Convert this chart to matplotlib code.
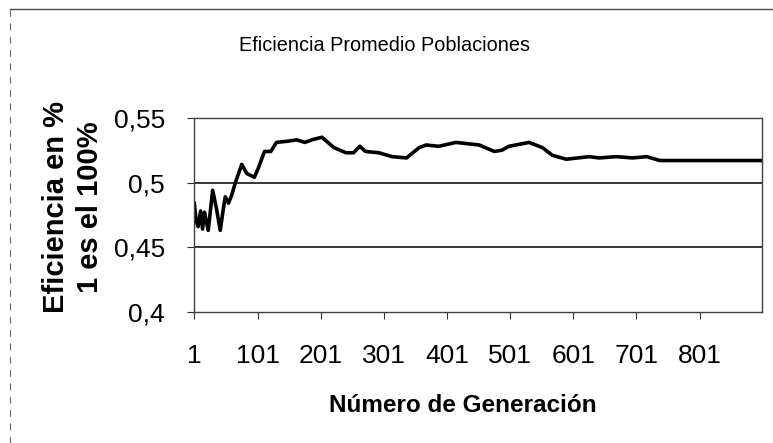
import matplotlib.pyplot as plt
from matplotlib.lines import Line2D

plt.rcParams['font.family'] = ['Liberation Sans', 'DejaVu Sans']

# generación y eficiencia promedio
generacion = [1, 4, 7, 11, 14, 17, 20, 23, 30, 36, 42, 47, 50, 55, 60, 66, 76, 84,
              96, 103, 112, 122, 131, 150, 163, 176, 187, 203, 222, 241, 253, 263,
              272, 293, 314, 337, 357, 368, 388, 415, 452, 476, 488, 499, 531, 552,
              568, 590, 626, 642, 669, 695, 717, 738, 801, 899]
eficiencia = [0.484, 0.470, 0.466, 0.478, 0.464, 0.477, 0.470, 0.463, 0.494, 0.480,
              0.463, 0.480, 0.489, 0.484, 0.490, 0.500, 0.514, 0.507, 0.504, 0.512,
              0.524, 0.524, 0.531, 0.532, 0.533, 0.531, 0.533, 0.535, 0.527, 0.523,
              0.523, 0.528, 0.524, 0.523, 0.520, 0.519, 0.527, 0.529, 0.528, 0.531,
              0.529, 0.524, 0.525, 0.528, 0.531, 0.527, 0.521, 0.518, 0.520, 0.519,
              0.520, 0.519, 0.520, 0.517, 0.517, 0.517]

yticks = [0.4, 0.45, 0.5, 0.55]
ytick_labels = ['0,4', '0,45', '0,5', '0,55']
xticks = [1, 101, 201, 301, 401, 501, 601, 701, 801]

fig = plt.figure(figsize=(7.73, 4.43), dpi=100)
ax = fig.add_axes([0.251, 0.296, 0.735, 0.438])

ax.plot(generacion, eficiencia, color='black', linewidth=2.6)

ax.set_xlim(0.5, 900)
ax.set_ylim(0.4, 0.55)
ax.set_yticks(yticks)
ax.set_yticklabels(ytick_labels)
ax.set_xticks(xticks)
ax.set_xticklabels([str(t) for t in xticks])
ax.tick_params(axis='both', labelsize=19, length=5, width=0.8, color='0.2')
ax.tick_params(axis='y', pad=16)
ax.tick_params(axis='x', pad=18)

for v in [0.45, 0.5]:
    ax.axhline(v, color='black', linewidth=1.1)

for s in ax.spines.values():
    s.set_color('0.25')
    s.set_linewidth(1.0)

fig.text(0.498, 0.898, 'Eficiencia Promedio Poblaciones', ha='center', va='center',
         fontsize=14.3)
fig.text(0.599, 0.085, 'Número de Generación', ha='center', va='center',
         fontsize=17.5, fontweight='bold')
ax.set_ylabel('Eficiencia en %\n1 es el 100%', fontsize=21, fontweight='bold',
              linespacing=1.3, ha='center', va='center')
ax.yaxis.set_label_coords(-0.213, 0.54)

# borde del recuadro escaneado
fig.add_artist(Line2D([0.013, 1.0], [0.98, 0.98], transform=fig.transFigure,
                      color='0.3', linewidth=1.0))
fig.add_artist(Line2D([0.013, 0.013], [0.0, 0.98], transform=fig.transFigure,
                      color='0.4', linewidth=0.8, linestyle=(0, (6, 6))))

fig.savefig('out.png', dpi=100, facecolor='white')
